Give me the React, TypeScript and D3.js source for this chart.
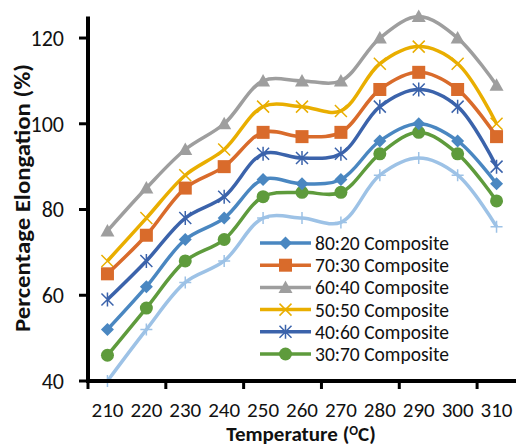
import React from "react";
import * as d3 from "d3";

const temps = ["210", "220", "230", "240", "250", "260", "270", "280", "290", "300", "310"];
const yTicks = [40, 60, 80, 100, 120];

const s8020 = [52, 62, 73, 78, 87, 86, 87, 96, 100, 96, 86];
const s7030 = [65, 74, 85, 90, 98, 97, 98, 108, 112, 108, 97];
const s6040 = [75, 85, 94, 100, 110, 110, 110, 120, 125, 120, 109];
const s5050 = [68, 78, 88, 94, 104, 104, 103, 114, 118, 114, 100];
const s4060 = [59, 68, 78, 83, 93, 92, 93, 104, 108, 104, 90];
const s3070 = [46, 57, 68, 73, 83, 84, 84, 93, 98, 93, 82];
const s2080 = [40, 52, 63, 68, 78, 78, 77, 88, 92, 88, 76];

const series = [
  { name: "80:20 Composite", values: s8020, color: "#4a87c1", marker: "diamond", legend: true },
  { name: "70:30 Composite", values: s7030, color: "#d96b2b", marker: "square", legend: true },
  { name: "60:40 Composite", values: s6040, color: "#9e9e9e", marker: "triangle", legend: true },
  { name: "50:50 Composite", values: s5050, color: "#e9ae00", marker: "x", legend: true },
  { name: "40:60 Composite", values: s4060, color: "#3b63ab", marker: "star", legend: true },
  { name: "30:70 Composite", values: s3070, color: "#5e9b3c", marker: "circle", legend: true },
  { name: "20:80 Composite", values: s2080, color: "#9dc2e6", marker: "plus", legend: false },
];

const FONT = "Carlito, Calibri, Lato, sans-serif";

function Marker({ type, x, y, color }: { type: string; x: number; y: number; color: string }) {
  switch (type) {
    case "diamond":
      return <path d={`M${x},${y - 6.5}L${x + 6.5},${y}L${x},${y + 6.5}L${x - 6.5},${y}Z`} fill={color} />;
    case "square":
      return <rect x={x - 6.5} y={y - 6.5} width={13} height={13} fill={color} />;
    case "triangle":
      return <path d={`M${x},${y - 7}L${x + 7},${y + 5.5}L${x - 7},${y + 5.5}Z`} fill={color} />;
    case "circle":
      return <circle cx={x} cy={y} r={6.5} fill={color} />;
    case "x":
      return (
        <path d={`M${x - 6},${y - 6}L${x + 6},${y + 6}M${x - 6},${y + 6}L${x + 6},${y - 6}`} stroke={color} strokeWidth={1.5} />
      );
    case "star":
      return (
        <path
          d={`M${x - 6},${y - 6}L${x + 6},${y + 6}M${x - 6},${y + 6}L${x + 6},${y - 6}M${x},${y - 7}L${x},${y + 7}`}
          stroke={color}
          strokeWidth={1.5}
        />
      );
    case "plus":
      return <path d={`M${x - 6},${y}L${x + 6},${y}M${x},${y - 6}L${x},${y + 6}`} stroke={color} strokeWidth={1.5} />;
    default:
      return null;
  }
}

export default function App() {
  const width = 516;
  const height = 447;
  const left = 88;
  const right = 516;
  const top = 16.6;
  const bottom = 381;

  const x = d3.scaleBand().domain(temps).range([left, right]).paddingInner(0).paddingOuter(0);
  const y = d3.scaleLinear().domain([40, 125]).range([bottom, top]);
  const cx = (t: string) => (x(t) as number) + x.bandwidth() / 2;

  const line = d3
    .line<number>()
    .x((_, i) => cx(temps[i]))
    .y((d) => y(d))
    .curve(d3.curveCatmullRom.alpha(0.5));

  // excel draws tick marks every 2nd category boundary
  const xTickPos = d3.range(0, temps.length + 1, 2).map((i) => left + i * x.step());

  const legendItems = series.filter((s) => s.legend);

  return (
    <svg width={width} height={height} style={{ position: "absolute", left: 0, top: 0 }} fontFamily={FONT}>
      <rect width={width} height={height} fill="#fff" />

      {series
        .slice()
        .reverse()
        .map((s) => (
          <g key={s.name}>
            <path d={line(s.values) || ""} fill="none" stroke={s.color} strokeWidth={3.5} />
            {s.values.map((v, i) => (
              <Marker key={i} type={s.marker} x={cx(temps[i])} y={y(v)} color={s.color} />
            ))}
          </g>
        ))}

      {/* axes */}
      <line x1={left} x2={left} y1={top} y2={bottom + 2} stroke="#000" strokeWidth={4} />
      <line x1={left - 2} x2={right} y1={bottom} y2={bottom} stroke="#000" strokeWidth={4} />
      {yTicks.map((t) => (
        <g key={t}>
          <line x1={left - 9} x2={left} y1={y(t)} y2={y(t)} stroke="#000" strokeWidth={3} />
          <text x={64} y={y(t)} dy="0.36em" textAnchor="end" fontSize={22} fill="#111">
            {t}
          </text>
        </g>
      ))}
      {xTickPos.map((p, i) => (
        <line key={i} x1={p} x2={p} y1={bottom} y2={bottom + 8} stroke="#000" strokeWidth={3} />
      ))}
      {temps.map((t) => (
        <text key={t} x={cx(t)} y={417} textAnchor="middle" fontSize={21} fill="#111">
          {t}
        </text>
      ))}

      <text x={301} y={441} textAnchor="middle" fontSize={21} fontWeight="bold" fill="#111">
        Temperature (<tspan fontSize={13} dy={-6}>O</tspan>
        <tspan dy={6}>C)</tspan>
      </text>
      <text
        transform="translate(30,198) rotate(-90)"
        textAnchor="middle"
        fontSize={22.5}
        fontWeight="bold"
        fill="#111"
        textLength={268}
        lengthAdjust="spacingAndGlyphs"
      >
        Percentage Elongation (%)
      </text>

      {/* legend */}
      {legendItems.map((s, i) => {
        const ly = 243 + i * 22.2;
        return (
          <g key={s.name}>
            <line x1={260} x2={311} y1={ly} y2={ly} stroke={s.color} strokeWidth={3.5} />
            <Marker type={s.marker} x={285.5} y={ly} color={s.color} />
            <text x={315} y={ly} dy="0.36em" fontSize={19.5} fill="#111">
              {s.name}
            </text>
          </g>
        );
      })}
    </svg>
  );
}
